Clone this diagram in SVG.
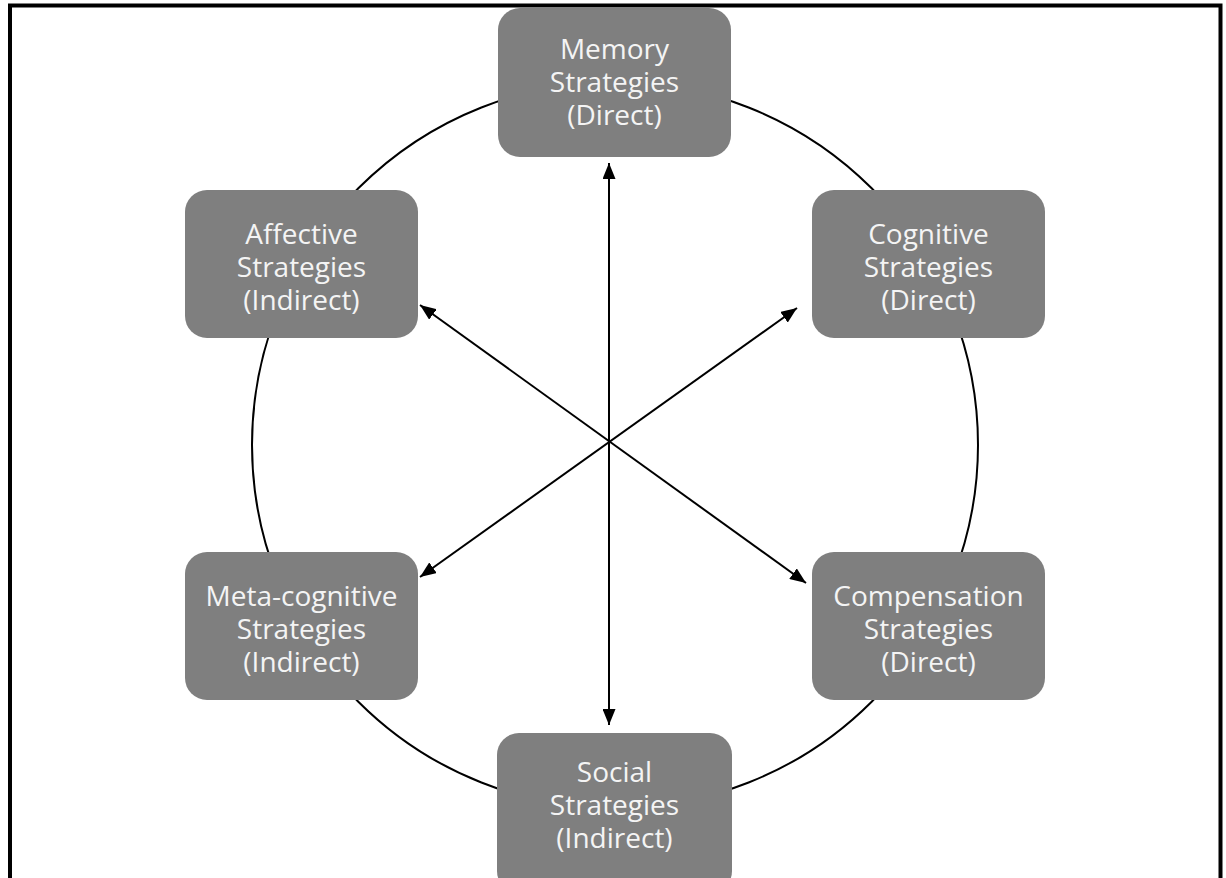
<svg xmlns="http://www.w3.org/2000/svg" width="1226" height="878" viewBox="0 0 1226 878">
<defs>
<style>
.box{fill:#7f7f7f;}
.lbl{font-family:"Open Sans","Liberation Sans",sans-serif;font-size:28px;fill:#f4f4f4;text-anchor:middle;}
.arr{stroke:#000;stroke-width:2;fill:none;marker-start:url(#ah);marker-end:url(#ah);}
</style>
<marker id="ah" markerUnits="userSpaceOnUse" markerWidth="17" markerHeight="13" refX="16" refY="6.5" orient="auto-start-reverse">
<path d="M0,0 L16,6.5 L0,13 z" fill="#000"/>
</marker>
</defs>
<rect width="1226" height="878" fill="#fff"/>
<path d="M10,878 V5.5 H1220.5 V878" fill="none" stroke="#000" stroke-width="4"/>
<circle cx="615" cy="445" r="363" fill="none" stroke="#000" stroke-width="2"/>
<g id="connectors">
<line class="arr" x1="609" y1="163" x2="609" y2="725"/>
<line class="arr" x1="420" y1="305" x2="806" y2="583"/>
<line class="arr" x1="797" y1="308" x2="420" y2="577"/>
</g>
<g id="memory">
<rect class="box" x="498" y="8" width="233" height="149" rx="22"/>
<text class="lbl"><tspan x="614.5" y="59">Memory</tspan><tspan x="614.5" y="92">Strategies</tspan><tspan x="614.5" y="125">(Direct)</tspan></text>
</g>
<g id="affective">
<rect class="box" x="185" y="190" width="233" height="148" rx="22"/>
<text class="lbl"><tspan x="301.5" y="244">Affective</tspan><tspan x="301.5" y="277">Strategies</tspan><tspan x="301.5" y="310">(Indirect)</tspan></text>
</g>
<g id="cognitive">
<rect class="box" x="812" y="190" width="233" height="148" rx="22"/>
<text class="lbl"><tspan x="928.5" y="244">Cognitive</tspan><tspan x="928.5" y="277">Strategies</tspan><tspan x="928.5" y="310">(Direct)</tspan></text>
</g>
<g id="metacognitive">
<rect class="box" x="185" y="552" width="233" height="148" rx="22"/>
<text class="lbl"><tspan x="301.5" y="606">Meta-cognitive</tspan><tspan x="301.5" y="639">Strategies</tspan><tspan x="301.5" y="672">(Indirect)</tspan></text>
</g>
<g id="compensation">
<rect class="box" x="812" y="552" width="233" height="148" rx="22"/>
<text class="lbl"><tspan x="928.5" y="606">Compensation</tspan><tspan x="928.5" y="639">Strategies</tspan><tspan x="928.5" y="672">(Direct)</tspan></text>
</g>
<g id="social">
<rect class="box" x="497" y="733" width="235" height="160" rx="22"/>
<text class="lbl"><tspan x="614.5" y="782">Social</tspan><tspan x="614.5" y="815">Strategies</tspan><tspan x="614.5" y="848">(Indirect)</tspan></text>
</g>
</svg>
